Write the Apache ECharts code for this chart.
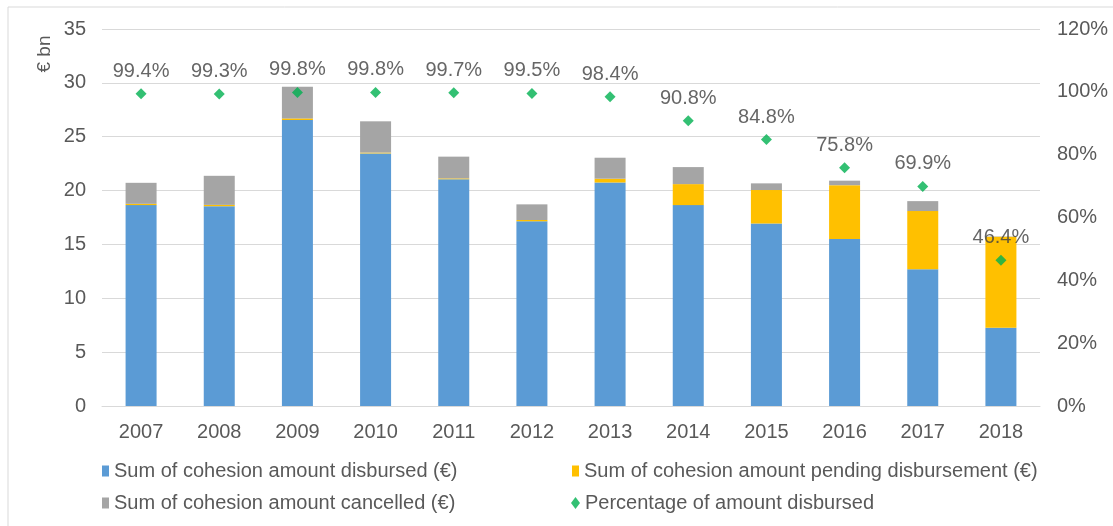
<!DOCTYPE html>
<html>
<head>
<meta charset="utf-8">
<script src="https://cdn.jsdelivr.net/npm/echarts@6/dist/echarts.min.js"></script>
<style>html,body{margin:0;padding:0;background:#fff}#c{width:1113px;height:526px}</style>
</head>
<body>
<div id="c"></div>
<script>
var years = ['2007','2008','2009','2010','2011','2012','2013','2014','2015','2016','2017','2018'];
var disbursed = [18.65, 18.55, 26.55, 23.45, 21.05, 17.15, 20.75, 18.65, 16.95, 15.5, 12.7, 7.27];
var pending   = [0.12, 0.12, 0.15, 0.08, 0.08, 0.12, 0.35, 1.95, 3.1, 5.0, 5.4, 8.45];
var cancelled = [1.95, 2.7, 2.95, 2.9, 2.02, 1.45, 1.95, 1.58, 0.62, 0.42, 0.92, 0.03];
var pctDisbursed = [99.4, 99.3, 99.8, 99.8, 99.7, 99.5, 98.4, 90.8, 84.8, 75.8, 69.9, 46.4];
var names = ['Sum of cohesion amount disbursed (\u20ac)', 'Sum of cohesion amount pending disbursement (\u20ac)', 'Sum of cohesion amount cancelled (\u20ac)', 'Percentage of amount disbursed'];

var chart = echarts.init(document.getElementById('c'), null, {renderer: 'canvas'});
var font = 'Arial, "Liberation Sans", sans-serif';
var legendText = {color: '#595959', fontSize: 20, fontFamily: font};
function lg(name, left, top, icon, w, h) {
  return {data: [name], left: left, top: top, icon: icon, itemWidth: w, itemHeight: h, itemGap: 0,
    textStyle: legendText, padding: 0, selectedMode: false};
}
chart.setOption({
  animation: false,
  graphic: [
    {type: 'rect', shape: {x: 8, y: 7, width: 1300, height: 700}, style: {fill: 'none', stroke: '#d9d9d9', lineWidth: 1}, silent: true},
    {type: 'text', x: 45, y: 54, rotation: Math.PI / 2, style: {text: '\u20ac bn', fill: '#595959', font: '19px ' + font, align: 'center', verticalAlign: 'middle'}}
  ],
  legend: [
    lg(names[0], 102, 461, 'rect', 7, 11),
    lg(names[1], 572, 461, 'rect', 7, 11),
    lg(names[2], 102, 493, 'rect', 7, 11),
    lg(names[3], 571, 493, 'diamond', 9, 12)
  ],
  grid: {left: 102, right: 73, top: 29, bottom: 120, containLabel: false},
  xAxis: {
    type: 'category', data: years,
    axisLine: {lineStyle: {color: '#d9d9d9', width: 1}},
    axisTick: {show: false},
    axisLabel: {color: '#595959', fontSize: 20, fontFamily: font, margin: 16}
  },
  yAxis: [
    {type: 'value', min: 0, max: 35, interval: 5,
      axisLine: {show: false}, axisTick: {show: false},
      axisLabel: {color: '#595959', fontSize: 20, fontFamily: font, margin: 16},
      splitLine: {lineStyle: {color: '#d9d9d9', width: 1}}},
    {type: 'value', min: 0, max: 120, interval: 20,
      axisLine: {show: false}, axisTick: {show: false},
      axisLabel: {color: '#595959', fontSize: 20, fontFamily: font, margin: 17, formatter: '{value}%'},
      splitLine: {show: false}}
  ],
  series: [
    {name: names[0], type: 'bar', stack: 's', data: disbursed, barWidth: 31, itemStyle: {color: '#5B9BD5'}},
    {name: names[1], type: 'bar', stack: 's', data: pending, barWidth: 31, itemStyle: {color: '#FFC000'}},
    {name: names[2], type: 'bar', stack: 's', data: cancelled, barWidth: 31, itemStyle: {color: '#A5A5A5'}},
    {name: names[3], type: 'scatter', yAxisIndex: 1, data: pctDisbursed, symbol: 'diamond', symbolSize: [11, 11],
      itemStyle: {color: '#00B050'}, z: 5,
      label: {show: true, position: 'top', distance: 7, color: '#404040', fontSize: 20, fontFamily: font,
        formatter: function (p) { return p.value.toFixed(1) + '%'; }}}
  ]
});
</script>
</body>
</html>
